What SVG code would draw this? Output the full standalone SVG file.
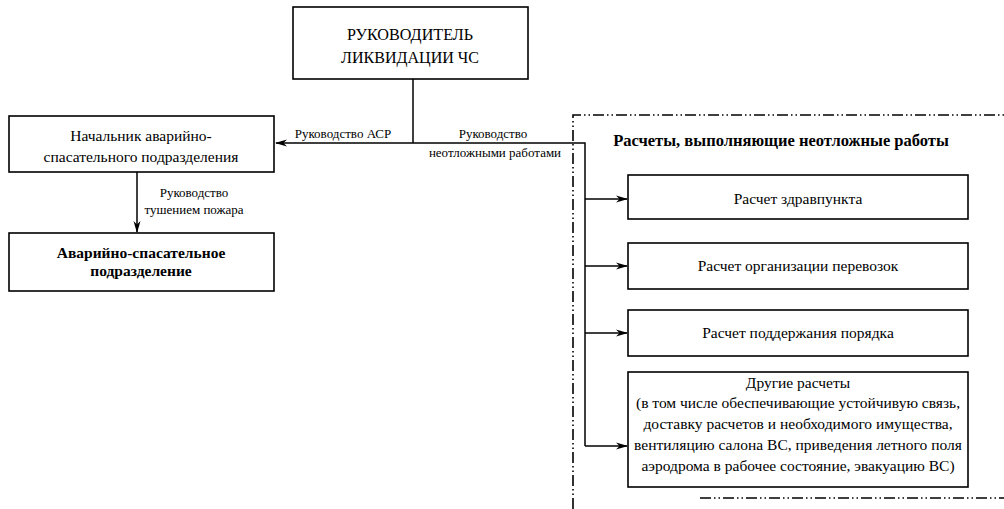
<svg xmlns="http://www.w3.org/2000/svg" width="1004" height="509" viewBox="0 0 1004 509">
<style>
.box{fill:#fff;stroke:#000;stroke-width:1.6}
.ln{fill:none;stroke:#000;stroke-width:1.5}
.dd{fill:none;stroke:#000;stroke-width:1.6;stroke-dasharray:11 3 1.5 3 1.5 3}
.t{font-size:15.5px}
.b{font-size:15.5px;font-weight:bold}
.bt{font-size:16.5px;font-weight:bold}
.s{font-size:13px}
.h{font-size:17.5px}
</style>
<defs>
<marker id="ah" markerWidth="12" markerHeight="8" refX="11" refY="4" orient="auto" markerUnits="userSpaceOnUse">
<path d="M0,0.5 L12,4 L0,7.5 L3.5,4 Z" fill="#000"/>
</marker>
</defs>
<rect width="1004" height="509" fill="#fff"/>
<g font-family="Liberation Serif, Times New Roman, serif" text-anchor="middle" fill="#000">
<g id="frame">
<path class="dd" d="M573,509 V115 H1004"/>
<path class="dd" d="M700,498 H1004"/>
</g>
<g id="connectors">
<path class="ln" d="M413,79 V143"/>
<path class="ln" d="M413,143 H276" marker-end="url(#ah)"/>
<path class="ln" d="M413,143 H585 V446"/>
<path class="ln" d="M585,199 H627" marker-end="url(#ah)"/>
<path class="ln" d="M585,266 H627" marker-end="url(#ah)"/>
<path class="ln" d="M585,333 H627" marker-end="url(#ah)"/>
<path class="ln" d="M585,446 H627" marker-end="url(#ah)"/>
<path class="ln" d="M137,172 V232" marker-end="url(#ah)"/>
<text class="s" x="343" y="138">Руководство АСР</text>
<text class="s" x="493" y="138">Руководство</text>
<text class="s" x="495" y="157">неотложными работами</text>
<text class="s" x="194" y="197">Руководство</text>
<text class="s" x="194" y="214">тушением пожара</text>
</g>
<g id="head">
<rect class="box" x="293" y="7" width="235" height="72"/>
<text class="h" x="410" y="40" textLength="126" lengthAdjust="spacingAndGlyphs">РУКОВОДИТЕЛЬ</text>
<text class="h" x="410" y="63" textLength="138" lengthAdjust="spacingAndGlyphs">ЛИКВИДАЦИИ ЧС</text>
</g>
<g id="chief">
<rect class="box" x="9" y="116" width="265" height="56"/>
<text class="t" x="141" y="141">Начальник аварийно-</text>
<text class="t" x="141" y="162">спасательного подразделения</text>
</g>
<g id="unit">
<rect class="box" x="9" y="233" width="265" height="58"/>
<text class="b" x="141" y="258">Аварийно-спасательное</text>
<text class="b" x="141" y="276">подразделение</text>
</g>
<g id="title">
<text class="bt" x="781" y="146">Расчеты, выполняющие неотложные работы</text>
</g>
<g id="r1">
<rect class="box" x="628" y="175" width="340" height="44"/>
<text class="t" x="798" y="204">Расчет здравпункта</text>
</g>
<g id="r2">
<rect class="box" x="628" y="243" width="340" height="46"/>
<text class="t" x="798" y="271">Расчет организации перевозок</text>
</g>
<g id="r3">
<rect class="box" x="628" y="310" width="340" height="46"/>
<text class="t" x="798" y="338">Расчет поддержания порядка</text>
</g>
<g id="r4">
<rect class="box" x="628" y="372" width="340" height="115"/>
<text class="t" x="798" y="388">Другие расчеты</text>
<text class="t" x="798" y="408">(в том числе обеспечивающие устойчивую связь,</text>
<text class="t" x="798" y="429">доставку расчетов и необходимого имущества,</text>
<text class="t" x="798" y="450">вентиляцию салона ВС, приведения летного поля</text>
<text class="t" x="798" y="471">аэродрома в рабочее состояние, эвакуацию ВС)</text>
</g>
</g>
</svg>
